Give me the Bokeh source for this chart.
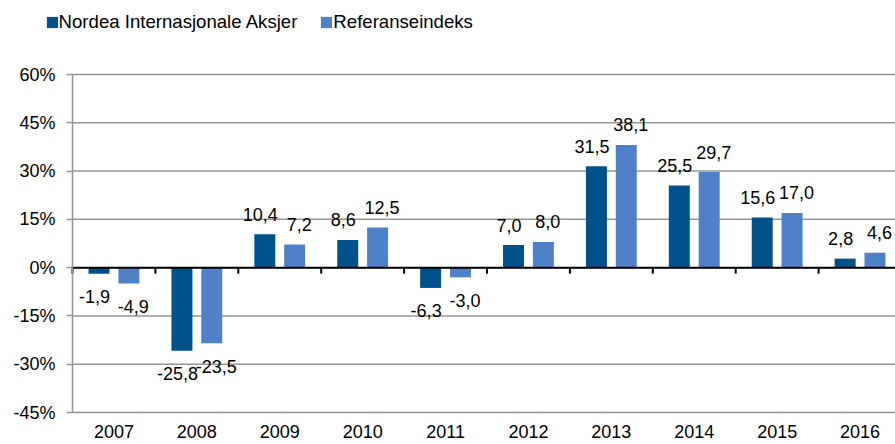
from bokeh.plotting import figure
from bokeh.models import (ColumnDataSource, FixedTicker, PrintfTickFormatter,
                          Legend, LegendItem, Range1d)
from bokeh.core.properties import value
from bokeh.embed import file_html
from bokeh.resources import INLINE

years = ["2007", "2008", "2009", "2010", "2011", "2012", "2013", "2014", "2015", "2016"]
fund = [-1.9, -25.8, 10.4, 8.6, -6.3, 7.0, 31.5, 25.5, 15.6, 2.8]
bench = [-4.9, -23.5, 7.2, 12.5, -3.0, 8.0, 38.1, 29.7, 17.0, 4.6]
series_names = ["Nordea Internasjonale Aksjer", "Referanseindeks"]
colors = ["#01528a", "#4f81c8"]
y_ticks = [-45, -30, -15, 0, 15, 30, 45, 60]

FONT = "Liberation Sans"
FS = "18px"
GRID = "#959595"

W, H = 895, 444
px_cat = 82.9          # pixels per category
px_unit = 338 / 105.0  # pixels per percent
ax_left, y_top_px = 72, 74
x0 = -ax_left / px_cat
x1 = (W - ax_left) / px_cat
ytop = y_ticks[-1] + y_top_px / px_unit
ybot = y_ticks[-1] - (H - y_top_px) / px_unit

p = figure(width=W, height=H, output_backend="svg", toolbar_location=None,
           x_range=Range1d(x0, x1), y_range=Range1d(ybot, ytop), min_border=0)
p.outline_line_color = None
p.background_fill_color = "white"
p.xgrid.visible = False
p.ygrid.visible = False

n = len(years)
# horizontal grid lines spanning the plot area only
p.segment(x0=[0] * len(y_ticks), x1=[n] * len(y_ticks), y0=y_ticks, y1=y_ticks,
          line_color=GRID, line_width=1.5)

# y axis placed at the left edge of the plot area
p.yaxis.fixed_location = 0
p.yaxis.bounds = (y_ticks[0], y_ticks[-1])
p.yaxis.ticker = FixedTicker(ticks=y_ticks)
p.yaxis.formatter = PrintfTickFormatter(format="%d%%")
p.yaxis.axis_line_color = GRID
p.yaxis.axis_line_width = 1.5
p.yaxis.major_tick_line_color = GRID
p.yaxis.major_tick_line_width = 1.5
p.yaxis.major_tick_out = 6
p.yaxis.major_tick_in = 0
p.yaxis.minor_tick_line_color = None
p.yaxis.major_label_standoff = 11
p.yaxis.major_label_text_font = FONT
p.yaxis.major_label_text_font_size = FS
p.yaxis.major_label_text_color = "black"

# x axis with year labels at category centres, below the -45% line
centers = [i + 0.5 for i in range(n)]
p.xaxis.fixed_location = y_ticks[0]
p.xaxis.ticker = FixedTicker(ticks=centers)
p.xaxis.major_label_overrides = {c: y for c, y in zip(centers, years)}
p.xaxis.axis_line_color = None
p.xaxis.major_tick_line_color = None
p.xaxis.minor_tick_line_color = None
p.xaxis.major_tick_out = 0
p.xaxis.major_label_standoff = 12
p.xaxis.major_label_text_font = FONT
p.xaxis.major_label_text_font_size = FS
p.xaxis.major_label_text_color = "black"

# bars and value labels
offset = 0.18
bw = 0.253
renderers = []
for k, (vals, col) in enumerate(zip([fund, bench], colors)):
    xs = [i + 0.5 + (-offset if k == 0 else offset) for i in range(n)]
    src = ColumnDataSource(dict(
        x=xs, top=vals,
        label=[f"{v:.1f}".replace(".", ",") for v in vals],
        yoff=[-20 if v >= 0 else 23 for v in vals],
    ))
    r = p.vbar(x="x", top="top", bottom=0, width=bw, source=src,
               fill_color=col, line_color=None)
    renderers.append(r)
    p.text(x="x", y="top", text="label", source=src, y_offset="yoff",
           x_offset=(-4.5 if k == 0 else 4.5),
           text_align="center", text_baseline="alphabetic",
           text_font=value(FONT), text_font_size=FS, text_color="black")

# zero line and category tick marks
p.segment(x0=[0], x1=[n], y0=[0], y1=[0], line_color="black", line_width=2)
tick_len = 6 / px_unit
bounds = list(range(n + 1))
p.segment(x0=bounds, x1=bounds, y0=[0] * len(bounds), y1=[-tick_len] * len(bounds),
          line_color="black", line_width=2)

legend = Legend(items=[LegendItem(label=s, renderers=[r]) for s, r in zip(series_names, renderers)],
                orientation="horizontal", location=(44.6, 411),
                padding=0, margin=0, spacing=22,
                glyph_width=14, glyph_height=14, label_standoff=0,
                label_text_font=FONT, label_text_font_size="18.6px", label_text_color="black",
                background_fill_alpha=0, border_line_color=None)
p.add_layout(legend, "center")

open("out.html", "w").write(file_html(p, INLINE))
